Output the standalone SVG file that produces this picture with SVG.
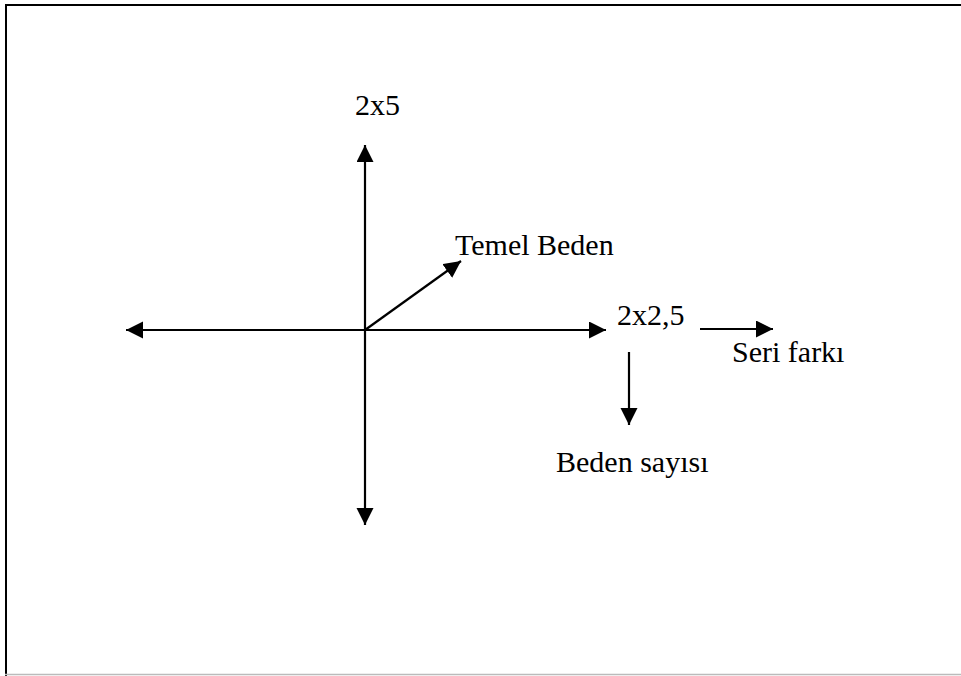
<svg xmlns="http://www.w3.org/2000/svg" width="961" height="676" viewBox="0 0 961 676">
<style>
text{font-family:"Liberation Serif","Times New Roman",serif;font-size:30px;fill:#000}
.ax{stroke:#000;stroke-width:2.2;fill:none}
</style>
<defs>
<marker id="ah" markerUnits="userSpaceOnUse" markerWidth="18" markerHeight="18" refX="17" refY="8.5" orient="auto">
<path d="M0,0 L17,8.5 L0,17 Z" fill="#000"/>
</marker>
</defs>
<rect x="0" y="0" width="961" height="676" fill="#fff"/>
<g id="frame">
<line x1="5" y1="5" x2="961" y2="5" stroke="#000" stroke-width="2"/>
<line x1="6" y1="4" x2="6" y2="676" stroke="#000" stroke-width="2"/>
<line x1="5" y1="674.5" x2="961" y2="674.5" stroke="#bbb" stroke-width="1.5"/>
</g>
<g id="connectors">
<line class="ax" x1="365" y1="330" x2="365" y2="145" marker-end="url(#ah)"/>
<line class="ax" x1="365" y1="330" x2="365" y2="525" marker-end="url(#ah)"/>
<line class="ax" x1="365" y1="330" x2="126" y2="330" marker-end="url(#ah)"/>
<line class="ax" x1="365" y1="330" x2="606" y2="330" marker-end="url(#ah)"/>
<line class="ax" x1="365" y1="330" x2="461" y2="261" marker-end="url(#ah)"/>
<line class="ax" x1="700" y1="329" x2="773" y2="329" marker-end="url(#ah)"/>
<line class="ax" x1="629" y1="352" x2="629" y2="425" marker-end="url(#ah)"/>
</g>
<g id="n_2x5"><text x="355" y="115">2x5</text></g>
<g id="n_temel"><text x="455" y="255">Temel Beden</text></g>
<g id="n_2x25"><text x="617" y="325">2x2,5</text></g>
<g id="n_seri"><text x="732" y="362">Seri farkı</text></g>
<g id="n_beden"><text x="556" y="472">Beden sayısı</text></g>
</svg>
